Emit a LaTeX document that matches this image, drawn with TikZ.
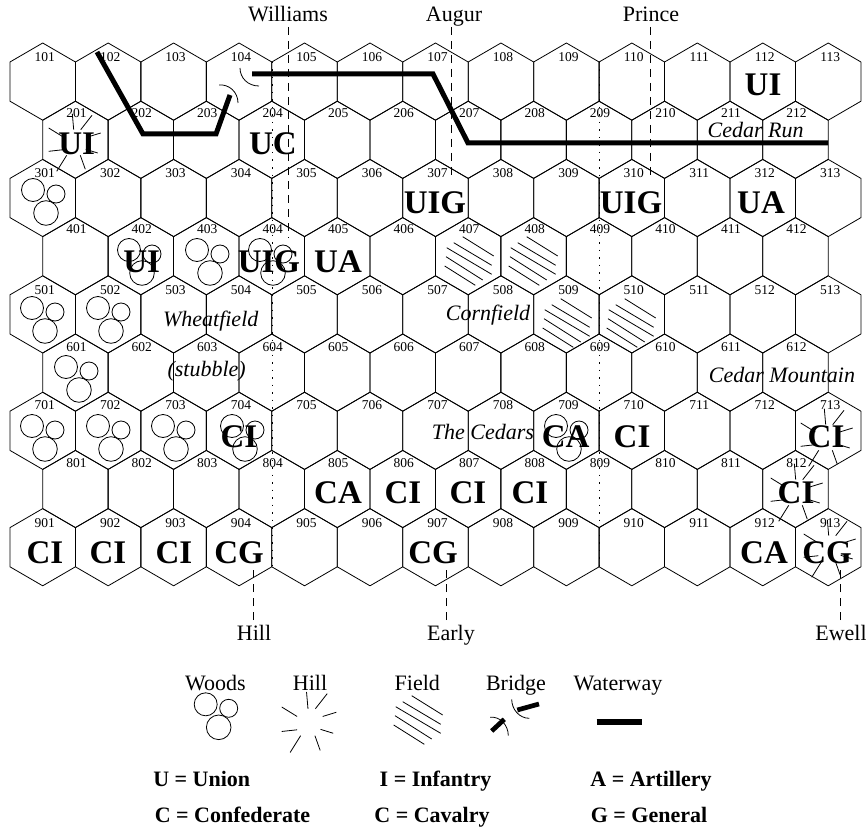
\documentclass[tikz,border=0pt]{standalone}
\usepackage{fontspec}
\setmainfont{Liberation Serif}
\newcommand{\labelfont}{\fontsize{22}{24}\selectfont}
\newcommand{\numfont}{\fontsize{13.5}{15}\selectfont}
\newcommand{\unitfont}{\fontsize{33}{35}\bfseries\selectfont}
\tikzset{
  hexcell/.style={line width=.8pt,line join=round},
  hexnum/.style={inner sep=0pt,anchor=base,font=\numfont},
  unit/.style={inner sep=0pt,anchor=base,font=\unitfont},
  place/.style={inner sep=0pt,anchor=base,font=\labelfont\itshape},
  leaderlabel/.style={inner sep=0pt,outer ysep=5pt,anchor=base,font=\labelfont,text height=15pt,text depth=0pt},
  keytext/.style={inner sep=0pt,anchor=base,font=\labelfont\bfseries},
  leader/.style={line width=.8pt,dash pattern=on 8pt off 6pt},
  column/.style={line width=1pt,dash pattern=on 1.5pt off 6pt},
  water/.style={line width=5pt,line join=miter},
  bridgeend/.style={line width=.8pt},
  pics/woods/.style={code={
    \draw[line width=.8pt] (0,0) circle[radius=11.5pt];
    \draw[line width=.8pt] (23,4) circle[radius=9pt];
    \draw[line width=.8pt] (13,23) circle[radius=12.3pt];
  }},
  pics/hillmark/.style={code={
    \draw[line width=.8pt] (-1.7,-28.3) -- (-.3,-12.3);
    \draw[line width=.8pt] (18,-26.7) -- (6.7,-12.3);
    \draw[line width=.8pt] (26.7,-9) -- (13.7,-5);
    \draw[line width=.8pt] (23.7,11) -- (11.7,7.3);
    \draw[line width=.8pt] (11.3,27.3) -- (6.3,13.3);
    \draw[line width=.8pt] (-17.3,29.3) -- (-7.3,13.3);
    \draw[line width=.8pt] (-25.3,9.3) -- (-10.7,7.7);
    \draw[line width=.8pt] (-25.3,-14) -- (-10.7,-5);
  }},
  pics/fieldmark/.style={code={
    \draw[line width=.8pt] (-5.3,-24.3) -- (25.7,-5);
    \draw[line width=.8pt] (-14.3,-18.3) -- (23.7,4.3);
    \draw[line width=.8pt] (-21.3,-13.3) -- (23.7,13.3);
    \draw[line width=.8pt] (-22,-4.3) -- (14.7,19);
    \draw[line width=.8pt] (-23.3,5) -- (7.3,24.3);
  }},
}
\begin{document}
\begin{tikzpicture}[x=1pt,y=-1pt]
\useasboundingbox (0,0) rectangle (866,829);

% hex grid and numbers
\foreach \row/\hx/\hcount/\numy/\numdx in {1/42.7/13/57/2,2/75.4/12/113/1,3/42.7/13/173/2,4/75.4/12/229/1,5/42.7/13/290/2,6/75.4/12/347/1,7/42.7/13/405/2,8/75.4/12/463/1,9/42.7/13/523/2}{
  \foreach \col in {1,...,\hcount}{
    \pgfmathsetmacro{\cx}{\hx+65.46*(\col-1)}
    \pgfmathsetmacro{\top}{43+58.2*(\row-1)}
    \pgfmathtruncatemacro{\num}{100*\row+\col}
    \draw[hexcell] (\cx,\top) -- (\cx+32.73,\top+19) -- (\cx+32.73,\top+58.2) -- (\cx,\top+77.2) -- (\cx-32.73,\top+58.2) -- (\cx-32.73,\top+19) -- cycle;
    \node[hexnum] (h\num) at (\cx+\numdx,\numy+4.5) {\num};
  }
}

% columns of the line of battle
\draw[column] (272,62) -- (272,566);
\draw[column] (599,62) -- (599,566);

% woods, hills, fields
\foreach \wx/\wy in {33/190,129/250,197/250,260/250,32/308,98/308,66/367,32/426,98/426,163/426,232/426,556/426}
  \pic at (\wx,\wy) {woods};
\foreach \hx/\hy in {74/142,826/437,796/492,829/548}
  \pic at (\hx,\hy) {hillmark};
\foreach \fx/\fy in {468/261,532/261,566/323,630/323}
  \pic at (\fx,\fy) {fieldmark};

% waterways and bridge
\draw[water] (97,52) -- (143,134) -- (216,134) -- (230,95);
\draw[water] (252,74) -- (433,74) -- (468,143) -- (828,143);
\draw[bridgeend] (240,68) .. controls (240,78) and (248,86) .. (259,86);
\draw[bridgeend] (219,85) .. controls (229,84) and (238,92) .. (238,103);

% commanders
\node[leaderlabel] (williams) at (288,22) {Williams};
\node[leaderlabel] (augur) at (454,22) {Augur};
\node[leaderlabel] (prince) at (651,22) {Prince};
\node[leaderlabel] (hill) at (254,640) {Hill};
\node[leaderlabel] (early) at (451,640) {Early};
\node[leaderlabel] (ewell) at (841,640) {Ewell};
\coordinate (williamsend) at (288,238);
\coordinate (augurend) at (451,175);
\coordinate (princeend) at (650,175);
\coordinate (hillend) at (253,570);
\coordinate (earlyend) at (446,570);
\coordinate (ewellend) at (840,568);
\draw[leader] (williams.south -| williamsend) -- (williamsend);
\draw[leader] (augur.south -| augurend) -- (augurend);
\draw[leader] (prince.south -| princeend) -- (princeend);
\draw[leader] (hill.north -| hillend) -- (hillend);
\draw[leader] (early.north -| earlyend) -- (earlyend);
\draw[leader] (ewell.north -| ewellend) -- (ewellend);

% units
\foreach \name/\ux/\uy/\utext in {u201/76.7/154/UI,u204/273/155/UC,u112/763/96/UI,u307/435/213/UIG,u310/631/213/UIG,u312/761/213/UA,u402/141.7/272/UI,u404/269/272/UIG,u405/338/272/UA,u704/239/447/CI,u709/565.7/447/CA,u710/632/447/CI,u713/826/447/CI,u805/338/503/CA,u806/403/503/CI,u807/468/503/CI,u808/530/503/CI,u812/796/503/CI,u901/45/563/CI,u902/108/563/CI,u903/174/563/CI,u904/239/563/CG,u907/433/563/CG,u912/764/563/CA,u913/827/563/CG}
  \node[unit] (\name) at (\ux,\uy) {\utext};

% place names
\node[place] (cedarrun) at (755.7,137.7) {Cedar Run};
\node[place] (wheatfield) at (210.7,326) {Wheatfield};
\node[place] (stubble) at (206.7,376) {(stubble)};
\node[place] (cornfield) at (488,320.7) {Cornfield};
\node[place] (cedarmountain) at (782,382.7) {Cedar Mountain};
\node[place] (cedars) at (483,439) {The Cedars};

% key
\node[leaderlabel,outer ysep=0pt] (keywoods) at (215.3,690) {Woods};
\node[leaderlabel,outer ysep=0pt] (keyhill) at (310,690) {Hill};
\node[leaderlabel,outer ysep=0pt] (keyfield) at (417.3,690) {Field};
\node[leaderlabel,outer ysep=0pt] (keybridge) at (516,690) {Bridge};
\node[leaderlabel,outer ysep=0pt] (keywater) at (618,690) {Waterway};
\pic at (205.7,704.3) {woods};
\pic[scale=1.05] at (308.3,721.7) {hillmark};
\pic at (417,720) {fieldmark};
\draw[line width=4.7pt] (517.3,710) -- (539,704);
\draw[line width=4.7pt] (491.7,731) -- (504.3,719.3);
\draw[bridgeend] (511.7,699.3) .. controls (511.7,709) and (519,718.3) .. (529.3,718.3);
\draw[bridgeend] (490,717.3) .. controls (500,716) and (508.3,725) .. (508.3,735.7);
\draw[line width=5.7pt] (596.7,722.3) -- (642.3,722.3);

\node[keytext] (keyunion) at (201.7,786) {U = Union};
\node[keytext] (keyconf) at (232.5,822) {C = Confederate};
\node[keytext] (keyinf) at (435.5,786) {I = Infantry};
\node[keytext] (keycav) at (432,822) {C = Cavalry};
\node[keytext] (keyart) at (651,786) {A = Artillery};
\node[keytext] (keygen) at (649,822) {G = General};
\end{tikzpicture}
\end{document}
